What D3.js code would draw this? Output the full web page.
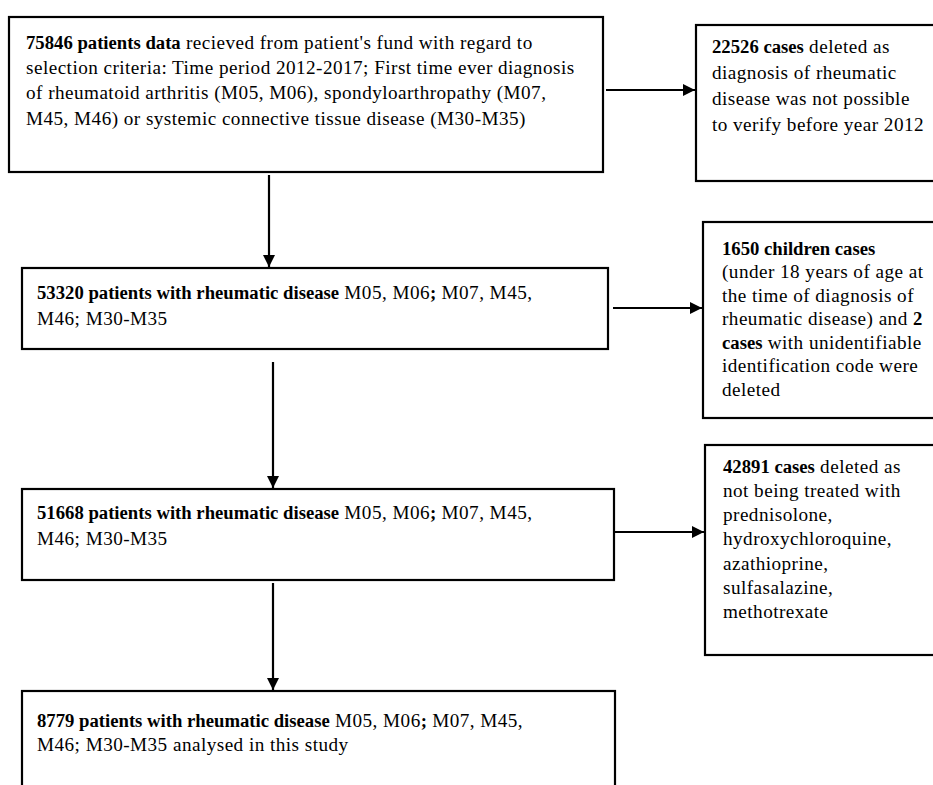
<!DOCTYPE html>
<html>
<head>
  <meta charset="UTF-8">
  <title>Patient selection flowchart</title>
  <style>
    body { margin: 0; background: #fff; }
    svg { display: block; }
  </style>
</head>
<body>
  <div id="chart"></div>
  <script src="https://d3js.org/d3.v7.min.js"></script>
  <script>
    // counts for each step of the selection
    const mainCounts = [75846, 53320, 51668, 8779];
    const excludedCounts = [22526, 1650, 42891];

    // text of the main boxes, one entry per line, runs are [text, bold]
    const mainLines = [
      [
        [["75846 patients data", true], [" recieved from patient's fund with regard to", false]],
        [["selection criteria: Time period 2012-2017; First time ever diagnosis", false]],
        [["of rheumatoid arthritis (M05, M06), spondyloarthropathy (M07,", false]],
        [["M45, M46) or systemic connective tissue disease (M30-M35)", false]]
      ],
      [
        [["53320 patients with rheumatic disease", true], [" M05, M06", false], [";", true], [" M07, M45,", false]],
        [["M46; M30-M35", false]]
      ],
      [
        [["51668 patients with rheumatic disease", true], [" M05, M06", false], [";", true], [" M07, M45,", false]],
        [["M46; M30-M35", false]]
      ],
      [
        [["8779 patients with rheumatic disease", true], [" M05, M06", false], [";", true], [" M07, M45,", false]],
        [["M46; M30-M35 analysed in this study", false]]
      ]
    ];

    // text of the exclusion boxes
    const excludedLines = [
      [
        [["22526 cases", true], [" deleted as", false]],
        [["diagnosis of rheumatic", false]],
        [["disease was not possible", false]],
        [["to verify before year 2012", false]]
      ],
      [
        [["1650 children cases", true]],
        [["(under 18 years of age at", false]],
        [["the time of diagnosis of", false]],
        [["rheumatic disease) and ", false], ["2", true]],
        [["cases", true], [" with unidentifiable", false]],
        [["identification code were", false]],
        [["deleted", false]]
      ],
      [
        [["42891 cases", true], [" deleted as", false]],
        [["not being treated with", false]],
        [["prednisolone,", false]],
        [["hydroxychloroquine,", false]],
        [["azathioprine,", false]],
        [["sulfasalazine,", false]],
        [["methotrexate", false]]
      ]
    ];

    const width = 933, height = 785;
    const font = 'Liberation Serif';

    // layout of the boxes (pixels)
    const mainLayout = [
      { x0: 9,  x1: 603, y0: 17,  y1: 172, tx: 26, ty: 42, lh: 25.3, ax: 269, a0: 175 },
      { x0: 22, x1: 608, y0: 268, y1: 349, tx: 37, ty: 292, lh: 26, ax: 273, a0: 362 },
      { x0: 22, x1: 614, y0: 489, y1: 580, tx: 37, ty: 512, lh: 26, ax: 273, a0: 583 },
      { x0: 22, x1: 615, y0: 691, y1: 810, tx: 37, ty: 720, lh: 24 }
    ];
    const sideLayout = [
      { x0: 696, y0: 25,  y1: 181, tx: 712, ty: 46,  lh: 26,   ay: 90,  a0: 606 },
      { x0: 703, y0: 222, y1: 418, tx: 722, ty: 248, lh: 23.5, ay: 308, a0: 613 },
      { x0: 705, y0: 445, y1: 655, tx: 723, ty: 466, lh: 24.2, ay: 532, a0: 614 }
    ];

    const svg = d3.select('#chart')
      .append('svg')
      .attr('width', width)
      .attr('height', height);

    svg.append('defs').append('marker')
      .attr('id', 'head')
      .attr('viewBox', '0 0 10 10')
      .attr('refX', 10)
      .attr('refY', 5)
      .attr('markerWidth', 5.5)
      .attr('markerHeight', 5.5)
      .attr('markerUnits', 'strokeWidth')
      .attr('orient', 'auto')
      .append('path')
      .attr('d', 'M0,0L10,5L0,10Z')
      .attr('fill', '#000');

    // each run is its own text element, placed after the previous one
    function writeLines(g, lines, l) {
      lines.forEach((runs, i) => {
        let x = l.tx;
        runs.forEach(r => {
          const t = g.append('text')
            .attr('x', x)
            .attr('y', l.ty + i * l.lh)
            .attr('dy', '0.35em')
            .attr('font-family', font)
            .attr('fill', '#000')
            .style('white-space', 'pre')
            .text(r[0]);
          if (r[1]) {
            t.attr('font-weight', 'bold').attr('font-size', 18.7);
          } else {
            t.attr('font-size', 19.2).attr('letter-spacing', 0.45);
          }
          x += t.node().getComputedTextLength();
        });
      });
    }

    const main = svg.selectAll('g.main')
      .data(mainCounts)
      .enter()
      .append('g')
      .attr('class', 'main');

    main.append('rect')
      .attr('x', (d, i) => mainLayout[i].x0)
      .attr('y', (d, i) => mainLayout[i].y0)
      .attr('width', (d, i) => mainLayout[i].x1 - mainLayout[i].x0)
      .attr('height', (d, i) => mainLayout[i].y1 - mainLayout[i].y0)
      .attr('fill', 'none')
      .attr('stroke', '#000')
      .attr('stroke-width', 2.2);

    main.each(function (d, i) { writeLines(d3.select(this), mainLines[i], mainLayout[i]); });

    const side = svg.selectAll('g.side')
      .data(excludedCounts)
      .enter()
      .append('g')
      .attr('class', 'side');

    side.append('rect')
      .attr('x', (d, i) => sideLayout[i].x0)
      .attr('y', (d, i) => sideLayout[i].y0)
      .attr('width', (d, i) => width + 20 - sideLayout[i].x0)
      .attr('height', (d, i) => sideLayout[i].y1 - sideLayout[i].y0)
      .attr('fill', 'none')
      .attr('stroke', '#000')
      .attr('stroke-width', 2.2);

    side.each(function (d, i) { writeLines(d3.select(this), excludedLines[i], sideLayout[i]); });

    // downward arrows between main boxes
    svg.selectAll('line.down')
      .data(mainLayout.slice(0, -1))
      .enter()
      .append('line')
      .attr('class', 'down')
      .attr('x1', d => d.ax)
      .attr('x2', d => d.ax)
      .attr('y1', d => d.a0)
      .attr('y2', (d, i) => mainLayout[i + 1].y0 - 1)
      .attr('stroke', '#000')
      .attr('stroke-width', 2.2)
      .attr('marker-end', 'url(#head)');

    // arrows to the exclusion boxes
    svg.selectAll('line.side')
      .data(sideLayout)
      .enter()
      .append('line')
      .attr('class', 'side')
      .attr('x1', d => d.a0)
      .attr('x2', d => d.x0 - 1)
      .attr('y1', d => d.ay)
      .attr('y2', d => d.ay)
      .attr('stroke', '#000')
      .attr('stroke-width', 2.2)
      .attr('marker-end', 'url(#head)');
  </script>
</body>
</html>
